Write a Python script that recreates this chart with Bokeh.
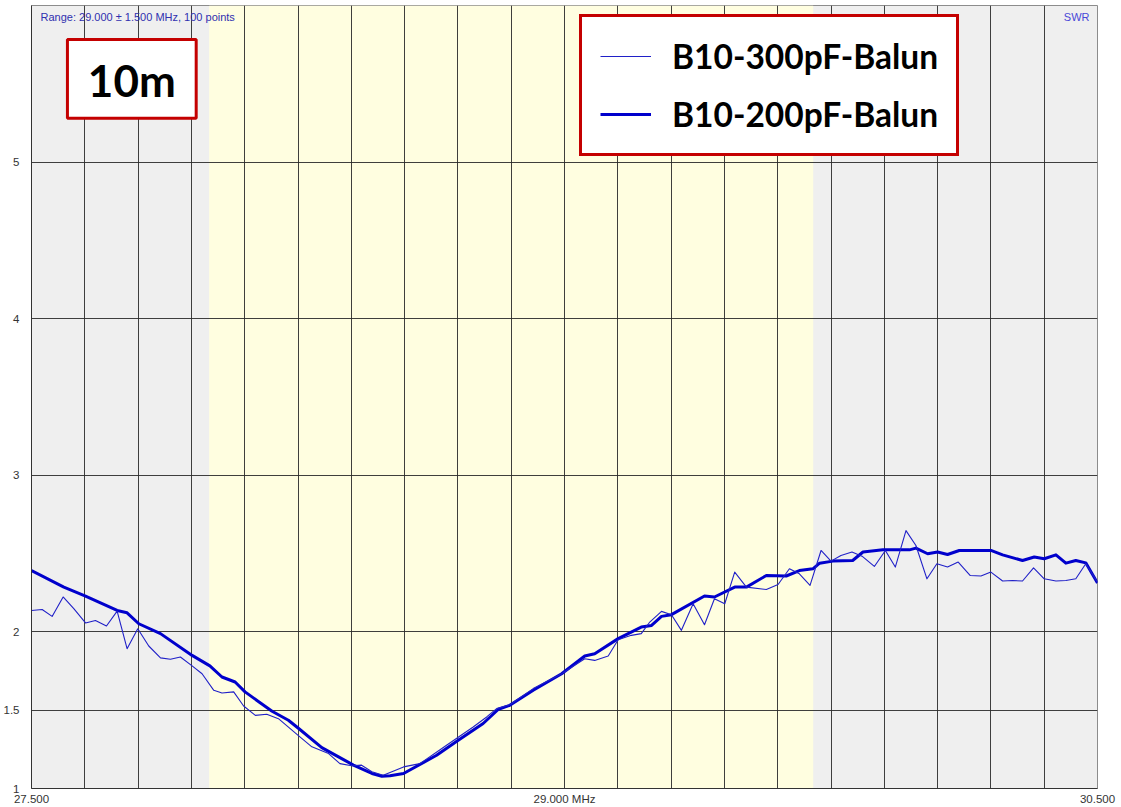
from bokeh.plotting import figure
from bokeh.models import (Range1d, FixedTicker, BoxAnnotation, Label, Legend, LegendItem)
from bokeh.embed import file_html
from bokeh.resources import INLINE

# ---------------- data ----------------
series_names = ["B10-300pF-Balun", "B10-200pF-Balun"]

freq_300 = [27.500, 27.530, 27.558, 27.589, 27.619, 27.652, 27.680, 27.711, 27.741, 27.769,
            27.799, 27.830, 27.863, 27.891, 27.919, 27.952, 27.980, 28.013, 28.036, 28.069,
            28.097, 28.130, 28.162, 28.195, 28.252, 28.289, 28.336, 28.368, 28.401, 28.429,
            28.458, 28.490, 28.547, 28.593, 28.668, 28.743, 28.781, 28.809, 28.846, 28.912,
            28.992, 29.057, 29.085, 29.123, 29.151, 29.188, 29.216, 29.240, 29.273, 29.301,
            29.329, 29.362, 29.394, 29.422, 29.451, 29.479, 29.512, 29.568, 29.601, 29.633,
            29.661, 29.691, 29.722, 29.750, 29.778, 29.809, 29.839, 29.872, 29.903, 29.931,
            29.961, 29.989, 30.020, 30.048, 30.078, 30.108, 30.142, 30.172, 30.200, 30.233,
            30.261, 30.289, 30.320, 30.350, 30.383, 30.411, 30.439, 30.467, 30.500]
swr_300 = [2.137, 2.143, 2.099, 2.223, 2.148, 2.057, 2.073, 2.038, 2.133, 1.893,
           2.020, 1.910, 1.834, 1.825, 1.840, 1.783, 1.733, 1.627, 1.610, 1.617,
           1.527, 1.467, 1.474, 1.446, 1.336, 1.266, 1.223, 1.159, 1.145, 1.149,
           1.107, 1.085, 1.138, 1.159, 1.276, 1.393, 1.457, 1.510, 1.535, 1.638,
           1.733, 1.829, 1.818, 1.846, 1.950, 1.978, 1.989, 2.063, 2.131, 2.110,
           2.010, 2.180, 2.046, 2.212, 2.180, 2.382, 2.286, 2.271, 2.303, 2.403,
           2.371, 2.297, 2.520, 2.452, 2.488, 2.510, 2.481, 2.418, 2.520, 2.414,
           2.647, 2.552, 2.339, 2.435, 2.414, 2.446, 2.360, 2.357, 2.382, 2.325,
           2.328, 2.325, 2.409, 2.339, 2.325, 2.328, 2.339, 2.435, 2.318]

freq_200 = [27.500, 27.591, 27.652, 27.741, 27.769, 27.802, 27.863, 27.952, 28.002, 28.036,
            28.073, 28.101, 28.177, 28.223, 28.252, 28.317, 28.373, 28.406, 28.458, 28.486,
            28.509, 28.547, 28.640, 28.701, 28.771, 28.814, 28.846, 28.912, 28.992, 29.057,
            29.085, 29.151, 29.216, 29.245, 29.273, 29.301, 29.394, 29.422, 29.479, 29.512,
            29.568, 29.624, 29.661, 29.699, 29.718, 29.755, 29.811, 29.840, 29.896, 29.971,
            29.989, 30.022, 30.050, 30.078, 30.111, 30.200, 30.233, 30.289, 30.322, 30.350,
            30.383, 30.411, 30.439, 30.467, 30.500]
swr_200 = [2.392, 2.286, 2.229, 2.137, 2.122, 2.052, 1.989, 1.850, 1.783, 1.712,
           1.680, 1.617, 1.493, 1.436, 1.383, 1.261, 1.191, 1.149, 1.096, 1.078,
           1.081, 1.096, 1.212, 1.308, 1.415, 1.506, 1.531, 1.627, 1.733, 1.846,
           1.861, 1.957, 2.031, 2.041, 2.099, 2.110, 2.229, 2.223, 2.286, 2.286,
           2.360, 2.357, 2.392, 2.403, 2.439, 2.452, 2.456, 2.510, 2.524, 2.524,
           2.535, 2.499, 2.510, 2.494, 2.520, 2.520, 2.492, 2.456, 2.478, 2.467,
           2.492, 2.439, 2.456, 2.441, 2.312]

band_name = "10m"
band_edges = [28.0, 29.7]
x_ticks = [27.5, 29.0, 30.5]
x_tick_labels = ["27.500", "29.000 MHz", "30.500"]
x_grid_lines = [27.50, 27.65, 27.80, 27.95, 28.10, 28.25, 28.40, 28.55, 28.70, 28.85, 29.00,
                29.15, 29.30, 29.45, 29.60, 29.75, 29.90, 30.05, 30.20, 30.35, 30.50]
y_ticks = [1, 1.5, 2, 3, 4, 5]
range_text = "Range: 29.000 \u00b1 1.500 MHz, 100 points"
y_name = "SWR"

# ---------------- layout ----------------
W, H = 1121, 807
X0, X1 = 27.5, 30.5
Y0, Y1 = 1.0, 6.0
FL, FW = 29, 1068          # frame left offset / width inside figure
FT, FH = 5, 785            # frame top offset / height

def fx(page_x):
    return X0 + (page_x - FL) * (X1 - X0) / FW

def fy(page_y):
    return Y0 + (FT + FH - page_y) * (Y1 - Y0) / FH

p = figure(width=W, height=H, x_range=Range1d(X0, X1), y_range=Range1d(Y0, Y1),
           output_backend="svg", toolbar_location=None,
           min_border_left=FL, min_border_right=W - FL - FW, min_border_top=FT,
           min_border_bottom=H - FT - FH)
p.background_fill_color = "#efefef"
p.border_fill_color = "white"
p.outline_line_color = "#8c8c8c"
p.outline_line_width = 1

# band shading
p.add_layout(BoxAnnotation(left=band_edges[0], right=band_edges[1], fill_color="#fffee0",
                           fill_alpha=1.0, line_alpha=0, level="image"))

# grids
p.xgrid.ticker = FixedTicker(ticks=x_grid_lines)
p.ygrid.ticker = FixedTicker(ticks=y_ticks)
for g in (p.xgrid, p.ygrid):
    g.grid_line_color = "#2a2a2a"
    g.grid_line_width = 1
    g.grid_line_alpha = 0.9

# axes
p.xaxis.ticker = FixedTicker(ticks=x_ticks)
p.xaxis.major_label_overrides = {t: s for t, s in zip(x_ticks, x_tick_labels)}
p.yaxis.ticker = FixedTicker(ticks=y_ticks)
for ax in (p.xaxis, p.yaxis):
    ax.major_tick_out = 0
    ax.major_tick_in = 0
    ax.minor_tick_out = 0
    ax.minor_tick_in = 0
    ax.axis_line_color = "#333333"
    ax.major_label_text_font = "Liberation Sans"
    ax.major_label_text_font_size = "11.5px"
    ax.major_label_text_color = "#333333"
p.xaxis.major_label_standoff = 4
p.yaxis.major_label_standoff = 12

# series
r200 = p.line(freq_200, swr_200, line_color="#0000cc", line_width=3, line_join="round")
r300 = p.line(freq_300, swr_300, line_color="#2020c8", line_width=1.1, line_join="round")

legend = Legend(items=[LegendItem(label=series_names[0], renderers=[r300]),
                       LegendItem(label=series_names[1], renderers=[r200])],
                location=(577 - FL, (FT + FH) - 158),
                border_line_color="#c40000", border_line_width=3, border_line_alpha=1.0,
                background_fill_color="white", background_fill_alpha=1.0,
                padding=18, spacing=16, glyph_width=51, glyph_height=42,
                label_height=42, label_standoff=21, margin=0,
                label_text_font="Lato", label_text_font_style="bold",
                label_text_font_size="33.5px", label_text_color="black")
p.add_layout(legend)

# "10m" box
p.add_layout(BoxAnnotation(left=fx(65), right=fx(194), top=fy(39), bottom=fy(118),
                           fill_color="white", fill_alpha=1.0, line_color="#c40000",
                           line_alpha=1.0, line_width=3, level="annotation"))
p.add_layout(Label(x=fx(129.5), y=fy(80), text=band_name, text_align="center",
                   text_baseline="middle", text_font="Lato", text_font_style="bold",
                   text_font_size="44px", text_color="black"))

# corner texts
p.add_layout(Label(x=fx(38), y=fy(11), text=range_text, text_align="left",
                   text_baseline="top", text_font="Liberation Sans",
                   text_font_size="11px", text_color="#3030b0"))
p.add_layout(Label(x=fx(1089), y=fy(11), text=y_name, text_align="right",
                   text_baseline="top", text_font="Liberation Sans",
                   text_font_size="11px", text_color="#4848d8"))

open("out.html", "w").write(file_html(p, INLINE))
